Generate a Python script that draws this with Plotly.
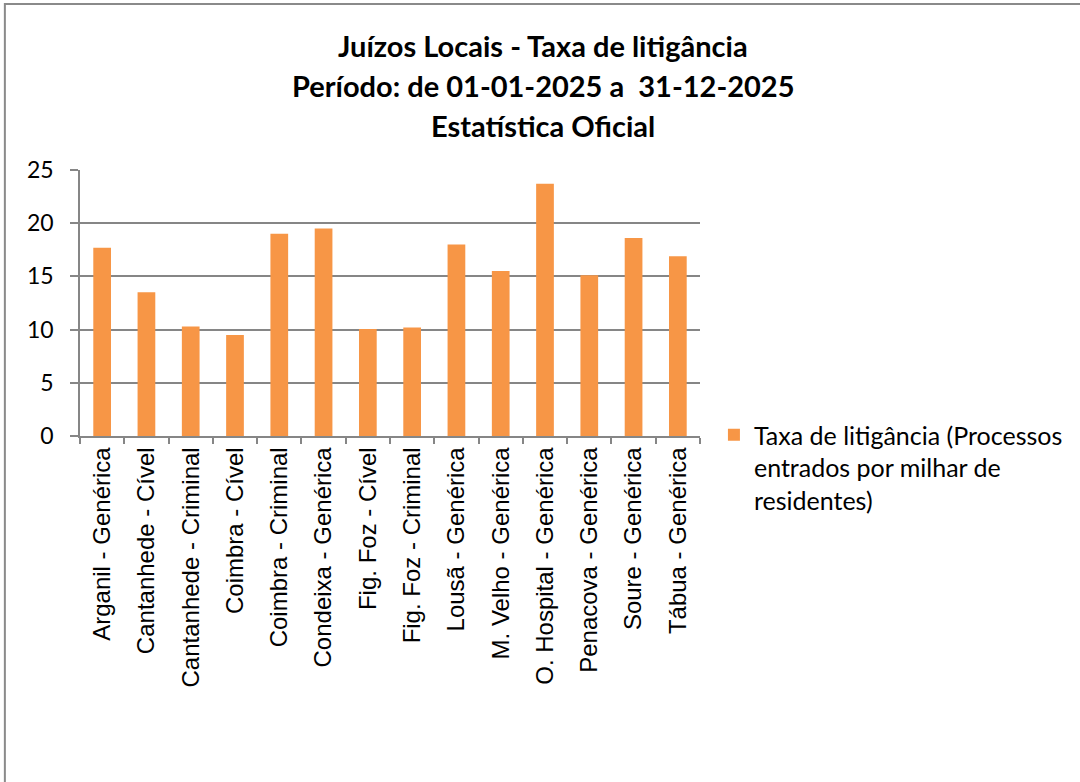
import plotly.graph_objects as go

categories = [
    "Arganil - Genérica", "Cantanhede - Cível", "Cantanhede - Criminal",
    "Coimbra - Cível", "Coimbra - Criminal", "Condeixa - Genérica",
    "Fig. Foz - Cível", "Fig. Foz - Criminal", "Lousã - Genérica",
    "M. Velho - Genérica", "O. Hospital - Genérica", "Penacova - Genérica",
    "Soure - Genérica", "Tábua - Genérica",
]
values = [17.7, 13.5, 10.3, 9.5, 19.0, 19.5, 10.05, 10.2, 18.0, 15.5, 23.7, 15.1, 18.6, 16.9]
series_name = "Taxa de litigância (Processos<br>entrados por milhar de<br>residentes)"
title_lines = [
    "Juízos Locais - Taxa de litigância",
    "Período: de 01-01-2025 a \u00a031-12-2025",
    "Estatística Oficial",
]

FONT = "Lato, Carlito, Calibri, sans-serif"
ARIAL = "'Liberation Sans', Arial, sans-serif"
GRID = "#868686"

fig = go.Figure()
fig.add_trace(go.Bar(
    x=categories, y=values, name=series_name,
    marker=dict(color="#F79646", line=dict(width=0)),
))

W, H = 1080, 782
L, R, T, B = 80, 703, 170, 436
fig.update_layout(
    width=W, height=H, autosize=False,
    margin=dict(l=L, r=W - R, t=T, b=H - B, pad=0),
    paper_bgcolor="white", plot_bgcolor="white",
    font=dict(family=FONT, color="black", size=20),
    bargap=0.6,
    showlegend=True,
    legend=dict(
        x=(717 - L) / (R - L), xanchor="left",
        y=(B - 412) / (B - T), yanchor="top",
        valign="top",
        font=dict(size=25, family=FONT),
        bgcolor="rgba(0,0,0,0)",
    ),
)
fig.update_xaxes(
    type="category", showline=True, linecolor=GRID, linewidth=1.5,
    ticks="outside", tickson="boundaries", ticklen=6, tickcolor=GRID, tickwidth=1.5,
    tickangle=-90, showgrid=False, tickfont=dict(size=24, family=ARIAL),
)
fig.update_yaxes(
    range=[0, 25], dtick=5, showgrid=True, gridcolor=GRID, gridwidth=1.5,
    showline=True, linecolor=GRID, linewidth=1.5,
    ticks="outside", ticklen=8, tickcolor=GRID, tickwidth=1.5,
    ticklabelstandoff=12,
    tickfont=dict(size=23, family=FONT), zeroline=False,
)

# title lines as annotations (pixel-centered)
centers_y = [46, 86, 125]
for txt, cy in zip(title_lines, centers_y):
    fig.add_annotation(
        text="<b>" + txt + "</b>", xref="paper", yref="paper",
        x=(545 - L) / (R - L), y=(B - cy) / (B - T),
        xanchor="center", yanchor="middle", showarrow=False,
        font=dict(size=29, family=FONT, color="black"),
    )

# chart outer border
fig.add_shape(
    type="rect", xref="paper", yref="paper",
    x0=(4.5 - L) / (R - L), x1=(1090 - L) / (R - L),
    y0=(B - 800) / (B - T), y1=(B - 4) / (B - T),
    line=dict(color="#8a8a8a", width=2), fillcolor="rgba(0,0,0,0)", layer="below",
)

fig.write_html(
    "out.html",
    config={"displayModeBar": False},
    post_script="document.body.style.margin='0';document.body.style.overflow='hidden';",
)
